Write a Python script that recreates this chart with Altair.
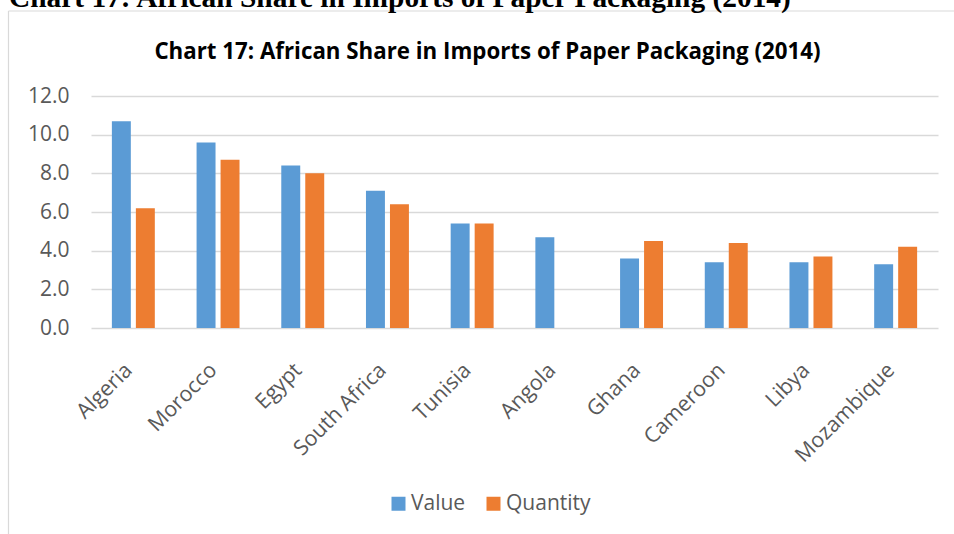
import altair as alt
import pandas as pd

countries = ["Algeria", "Morocco", "Egypt", "South Africa", "Tunisia",
             "Angola", "Ghana", "Cameroon", "Libya", "Mozambique"]
value_share = [10.7, 9.6, 8.4, 7.1, 5.4, 4.7, 3.6, 3.4, 3.4, 3.3]
quantity_share = [6.2, 8.7, 8.0, 6.4, 5.4, None, 4.5, 4.4, 3.7, 4.2]
series = ["Value", "Quantity"]
colors = ["#5B9BD5", "#ED7D31"]
y_ticks = [0, 2, 4, 6, 8, 10, 12]
heading = "Chart 17: African Share in Imports of Paper Packaging (2014)"
title = "Chart 17: African Share in Imports of Paper Packaging (2014)"

rows = []
for c, v, q in zip(countries, value_share, quantity_share):
    rows.append({"Country": c, "Series": "Value", "Share": v})
    if q is not None:
        rows.append({"Country": c, "Series": "Quantity", "Share": q})
df = pd.DataFrame(rows)

W, H = 847, 232
PL, PT, PR, PB = 91, 96, 16, 206
FONT = "Open Sans"
GRAY = "#595959"

bars = alt.Chart(df).mark_bar().encode(
    x=alt.X("Country:N", sort=countries,
            scale=alt.Scale(paddingInner=0, paddingOuter=0),
            axis=alt.Axis(title=None, labelAngle=-45, labelFontSize=21.3,
                          labelColor=GRAY, labelFont=FONT, labelPadding=31,
                          labelOffset=-12,
                          ticks=False, domain=False, grid=False)),
    xOffset=alt.XOffset("Series:N", sort=series,
                        scale=alt.Scale(domain=series, paddingInner=0.21, paddingOuter=0.87)),
    y=alt.Y("Share:Q", scale=alt.Scale(domain=[0, 12]),
            axis=alt.Axis(values=y_ticks, format=".1f", title=None, grid=True,
                          gridColor="#d9d9d9", gridWidth=1.5, domain=False,
                          ticks=False, labelPadding=22, labelFontSize=21,
                          labelColor=GRAY, labelFont=FONT)),
    color=alt.Color("Series:N", sort=series,
                    scale=alt.Scale(domain=series, range=colors),
                    legend=alt.Legend(orient="none", legendX=297, legendY=397,
                                      direction="horizontal", title=None,
                                      symbolType="square", symbolSize=196,
                                      symbolStrokeWidth=0,
                                      labelFontSize=21, labelColor=GRAY,
                                      labelFont=FONT, columnPadding=17,
                                      labelOffset=2)),
)

one = pd.DataFrame({"k": [0]})

head = alt.Chart(one).mark_text(
    text=heading, font="Liberation Serif", fontWeight="bold", fontSize=29.4,
    align="left", baseline="alphabetic", color="#000000"
).encode(x=alt.value(9 - PL), y=alt.value(7 - PT))

ttl = alt.Chart(one).mark_text(
    text=title, font=FONT, fontWeight="bold", fontSize=22.3,
    align="center", baseline="alphabetic", color="#000000"
).encode(x=alt.value(487.5 - PL), y=alt.value(59 - PT))

border_left = alt.Chart(one).mark_rule(color="#d9d9d9", strokeWidth=1.2).encode(
    x=alt.value(8.5 - PL), y=alt.value(11 - PT), y2=alt.value(540 - PT))
border_top = alt.Chart(one).mark_rule(color="#d9d9d9", strokeWidth=1.2).encode(
    x=alt.value(8.5 - PL), x2=alt.value(960 - PL), y=alt.value(11 - PT))

chart = alt.layer(border_left, border_top, head, ttl, bars).properties(
    width=W, height=H,
    autosize=alt.AutoSizeParams(type="none"),
    padding={"left": PL, "top": PT, "right": PR, "bottom": PB},
).configure_view(stroke=None)

chart.save("out.html", embed_options={"renderer": "svg", "actions": False})
